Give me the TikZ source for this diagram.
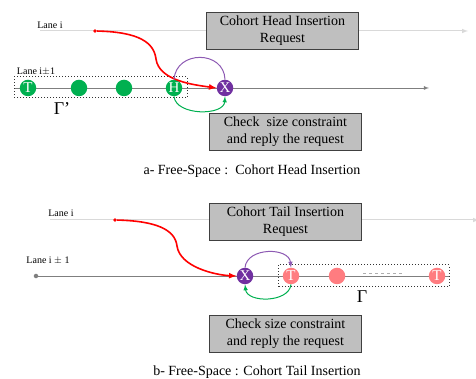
\documentclass[tikz,border=0pt]{standalone}
\usepackage{fontspec}
\setmainfont{Liberation Serif}
\usepackage{tikz}
\usetikzlibrary{positioning}
\definecolor{cgreen}{HTML}{00B050}
\definecolor{cpurple}{HTML}{7030A0}
\definecolor{cpink}{HTML}{FF7C80}
\definecolor{boxfill}{HTML}{BFBFBF}
\definecolor{boxline}{HTML}{404040}
\definecolor{lanelight}{HTML}{D9D9D9}
\definecolor{lanedark}{HTML}{7F7F7F}
\tikzstyle{veh}=[circle, minimum size=16.5pt, inner sep=0pt, text=white, font=\fontsize{15}{15}\selectfont]
\tikzstyle{veh_green}=[veh, fill=cgreen]
\tikzstyle{veh_pink}=[veh, fill=cpink]
\tikzstyle{veh_x}=[veh, fill=cpurple]
\tikzstyle{msgbox}=[draw=boxline, fill=boxfill, line width=0.8pt, minimum width=152pt, minimum height=37pt, align=center, inner sep=1pt, font=\fontsize{14}{17}\selectfont]
\tikzstyle{lanelabel}=[font=\fontsize{10}{10}\selectfont]
\tikzstyle{caption}=[font=\fontsize{14}{14}\selectfont]
\tikzstyle{cohort}=[draw=black!80, dotted, line width=1pt]
\tikzstyle{move}=[red, line width=1.6pt]

\begin{document}
\begin{tikzpicture}[x=1pt, y=1pt]
          \useasboundingbox (0,0) rectangle (476,379);
          % a- head insertion
          \coordinate (la0) at (40,348);
          \coordinate (la1) at (468,348);
          \coordinate (lb0) at (15,291);
          \coordinate (lb1) at (429,291);
          \draw[lanelight, line width=1pt, -latex](la0) -- (la1);
          \draw[lanedark, line width=0.8pt, -latex](lb0) -- (lb1);
          \node[lanelabel] (lanea) at (50,354){Lane i};
          \node[lanelabel] (laneb) at (36,307){Lane i$\pm$1};
          \draw[cohort] (14,281) rectangle (187,302);
          \node[veh_green] (ta) at (28,291){T};
          \node[veh_green] (ga1) at (79,291){};
          \node[veh_green] (ga2) at (124,291){};
          \node[veh_green] (ha) at (174,291){H};
          \node[veh_x] (xa) at (225,291){X};
          \node[font=\fontsize{18}{18}\selectfont] (gammaa) at (62,270){Γ’};
          \node[msgbox] (reqa) at (282.5,348.5){Cohort Head Insertion\\Request};
          \node[msgbox] (chka) at (285.5,247){Check\ \ size constraint\\and reply the request};
          \node[caption] (capa) at (252,208){a- Free-Space :\ \ Cohort Head Insertion};
          \node[circle, fill=red, inner sep=1.4pt] (sa) at (95,348){};
          \draw[move, -latex](sa) .. controls (140,347) and (154,336) .. (156,320)
              .. controls (159,298) and (195,294) .. (xa.west);
          \draw[cpurple!80, line width=1pt](ha.north) .. controls (176,329) and (224,329) .. (xa.north);
          \draw[cgreen, line width=1pt, -latex](ha.south) .. controls (176,263) and (224,263) .. (xa.south);
          % b- tail insertion
          \coordinate (lc0) at (50,159);
          \coordinate (lc1) at (479,159);
          \draw[lanelight, line width=1pt, -latex](lc0) -- (lc1);
          \node[circle, fill=lanedark, inner sep=1.6pt] (ld0) at (36,103){};
          \coordinate (ld1) at (449,103);
          \draw[lanedark, line width=0.8pt](ld0) -- (ld1);
          \node[lanelabel] (lanec) at (61,166){Lane i};
          \node[lanelabel] (laned) at (48,118){Lane i $\pm$ 1};
          \draw[cohort] (278,92) rectangle (449,114);
          \node[veh_x] (xb) at (245,103){X};
          \node[veh_pink] (tb) at (291,103){T};
          \node[veh_pink] (pb) at (337,103){};
          \node[veh_pink] (tb2) at (437,103){T};
          \draw[lanelight!80!black, dashed, line width=0.8pt] (363,106) -- (402,106);
          \node[font=\fontsize{18}{18}\selectfont] (gammab) at (362,82){Γ};
          \node[msgbox] (reqb) at (285.5,157){Cohort Tail Insertion\\Request};
          \node[msgbox] (chkb) at (285.5,45){Check size constraint\\and reply the request};
          \node[caption] (capb) at (257,7){b- Free-Space : Cohort Tail Insertion};
          \node[circle, fill=red, inner sep=1.4pt] (sb) at (115,159){};
          \draw[move, -latex](sb) .. controls (155,158) and (175,150) .. (177,133)
              .. controls (180,112) and (215,104) .. (xb.west);
          \draw[cpurple!80, line width=1pt, -latex](xb.north) .. controls (247,132) and (289,132) .. (tb.north);
          \draw[cgreen, line width=1pt, -latex](tb.south) .. controls (289,76) and (247,76) .. (xb.south);
        \end{tikzpicture}
\end{document}
